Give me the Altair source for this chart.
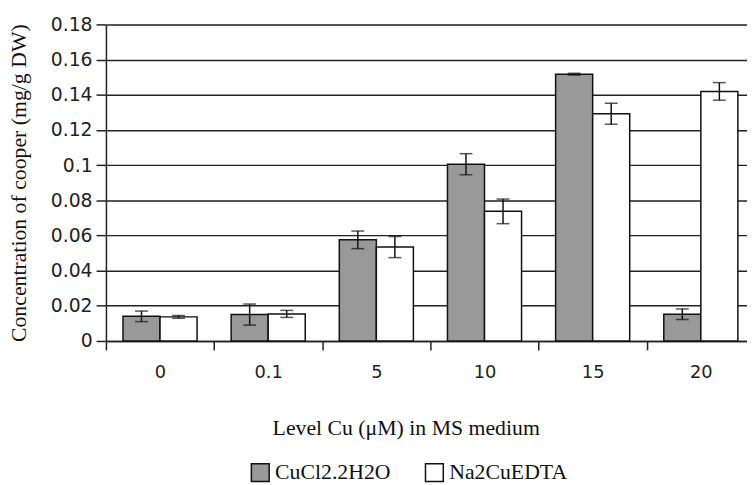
import altair as alt
import pandas as pd

levels = ["0", "0.1", "5", "10", "15", "20"]
series = ["CuCl2.2H2O", "Na2CuEDTA"]
cucl = [0.014, 0.015, 0.0575, 0.1005, 0.1517, 0.0152]
cucl_err = [0.003, 0.006, 0.005, 0.006, 0.0005, 0.003]
na = [0.0137, 0.0154, 0.0534, 0.0737, 0.1292, 0.1419]
na_err = [0.0008, 0.002, 0.006, 0.007, 0.006, 0.005]
y_ticks = [0, 0.02, 0.04, 0.06, 0.08, 0.1, 0.12, 0.14, 0.16, 0.18]

rows = []
for i, lv in enumerate(levels):
    rows.append({"level": lv, "series": series[0], "value": cucl[i],
                 "lo": cucl[i] - cucl_err[i], "hi": cucl[i] + cucl_err[i]})
    rows.append({"level": lv, "series": series[1], "value": na[i],
                 "lo": na[i] - na_err[i], "hi": na[i] + na_err[i]})
df = pd.DataFrame(rows)

SANS = "DejaVu Sans"
SERIF = "Liberation Serif"

x_axis = alt.Axis(
    title="Level Cu (\u03bcM) in MS medium",
    titleFont=SERIF, titleFontSize=22, titleFontWeight="normal", titleColor="#111",
    titleX=303, titleY=95, titleAlign="center", titleBaseline="alphabetic",
    labelFont=SANS, labelFontSize=18, labelColor="#222", labelAngle=0, labelPadding=14,
    tickBand="extent", tickSize=9, tickColor="#222", tickWidth=1.5,
    domainColor="#222", domainWidth=1.5, grid=False,
)
y_axis = alt.Axis(
    values=y_ticks, format="~g", labelOverlap=False,
    title="Concentration of cooper (mg/g DW)",
    titleFont=SERIF, titleFontSize=22, titleFontWeight="normal", titleColor="#111",
    titleAngle=270, titleX=-81, titleY=160, titleAlign="center",
    titleBaseline="alphabetic",
    labelFont=SANS, labelFontSize=19, labelColor="#222", labelPadding=4,
    tickSize=10, tickColor="#222", tickWidth=1.5,
    domainColor="#222", domainWidth=1.5,
    grid=True, gridColor="#222", gridWidth=1.5,
)
x_scale = alt.Scale(range=[0, 656], paddingInner=0, paddingOuter=0)
y_scale = alt.Scale(domain=[0, 0.18], nice=False, zero=True)


def xe():
    return alt.X("level:N", sort=levels, scale=x_scale, axis=x_axis)


def xo():
    return alt.XOffset("series:N", sort=series,
                       scale=alt.Scale(paddingInner=0, paddingOuter=0.46))


def ye(field):
    return alt.Y(field, type="quantitative", scale=y_scale, axis=y_axis)


bars = alt.Chart(df).mark_bar(stroke="#111", strokeWidth=1.5).encode(
    x=xe(),
    xOffset=xo(),
    y=ye("value"),
    color=alt.Color(
        "series:N", sort=series,
        scale=alt.Scale(domain=series, range=["#999999", "#ffffff"]),
        legend=alt.Legend(
            title=None, orient="none", direction="horizontal",
            legendX=145, legendY=442, padding=0,
            symbolType="square", symbolSize=324, symbolStrokeColor="#111",
            symbolStrokeWidth=1.5, symbolOpacity=1,
            labelFont=SERIF, labelFontSize=22, labelColor="#111",
            labelOffset=4, columnPadding=32,
        ),
    ),
)

rules = alt.Chart(df).mark_rule(color="#111", strokeWidth=1.5).encode(
    x=xe(),
    xOffset=xo(),
    y=ye("lo"),
    y2="hi:Q",
)
caps_lo = alt.Chart(df).mark_tick(color="#111", thickness=1.5, size=13).encode(
    x=xe(),
    xOffset=xo(),
    y=ye("lo"),
)
caps_hi = alt.Chart(df).mark_tick(color="#111", thickness=1.5, size=13).encode(
    x=xe(),
    xOffset=xo(),
    y=ye("hi"),
)

chart = alt.layer(bars, rules, caps_lo, caps_hi).properties(
    width=648, height=320,
    autosize=alt.AutoSizeParams(type="none"),
    padding={"left": 99, "top": 14, "right": 0, "bottom": 143},
).configure_view(strokeWidth=0)

chart.save("out.html", embed_options={"renderer": "svg", "actions": False})
